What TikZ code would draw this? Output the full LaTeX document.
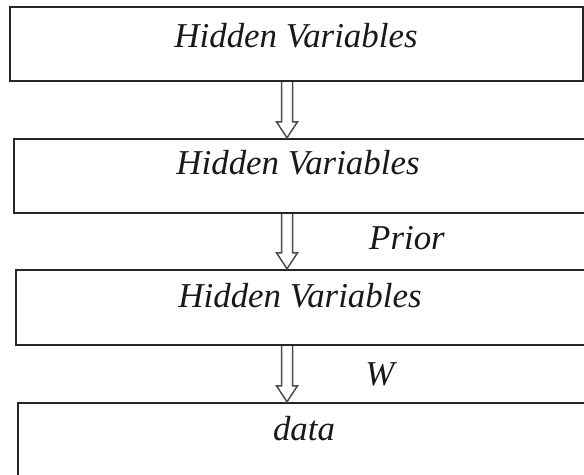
\documentclass[tikz,border=0pt]{standalone}
\usepackage{fontspec}
\setmainfont{Liberation Serif}
\usetikzlibrary{calc}

\tikzset{
  box/.style={draw=black!85, line width=2.4bp, rectangle, inner sep=0pt},
  lbl/.style={anchor=base, inner sep=0pt, font=\fontsize{35}{41}\selectfont\itshape, text=black!90},
  % hollow block arrow from the start point (shaft top) down to the target (tip)
  hollow/.style={draw=black!70, line width=1.5bp, line join=miter,
    to path={let \p1=(\tikztostart), \p2=(\tikztotarget) in
      (\x1-5.5bp,\y1) -- (\x1-5.5bp,\y2+16bp) -- (\x1-10.5bp,\y2+16bp) -- (\x1,\y2)
      -- (\x1+10.5bp,\y2+16bp) -- (\x1+5.5bp,\y2+16bp) -- (\x1+5.5bp,\y1)}}
}

\begin{document}
\begin{tikzpicture}[x=1bp,y=-1bp]
  \useasboundingbox (0,0) rectangle (584,475);
  \clip (0,0) rectangle (584,475);
  \fill[white] (0,0) rectangle (584,475);

  % stacked layers
  \node[box, minimum width=573bp, minimum height=74bp] (b1) at (296.5,44) {};
  \node[box, minimum width=586bp, minimum height=74bp] (b2) at (307,176) {};
  \node[box, minimum width=584bp, minimum height=75bp] (b3) at (308,307.5) {};
  \node[box, minimum width=582bp, minimum height=87bp] (b4) at (309,446.5) {};

  % layer captions
  \node[lbl] (t1) at (296,48) {Hidden Variables};
  \node[lbl] (t2) at (298,175) {Hidden Variables};
  \node[lbl] (t3) at (300,307) {Hidden Variables};
  \node[lbl] (t4) at (304,440) {data};

  % edge labels
  \node[lbl] (prior) at (407,250) {Prior};
  \node[lbl] (w) at (380,385) {W};

  % arrows between layers
  \coordinate (ax) at (287,0);
  \draw[hollow] (b1.south -| ax) to (b2.north -| ax);
  \draw[hollow] (b2.south -| ax) to (b3.north -| ax);
  \draw[hollow] (b3.south -| ax) to (b4.north -| ax);
\end{tikzpicture}
\end{document}
